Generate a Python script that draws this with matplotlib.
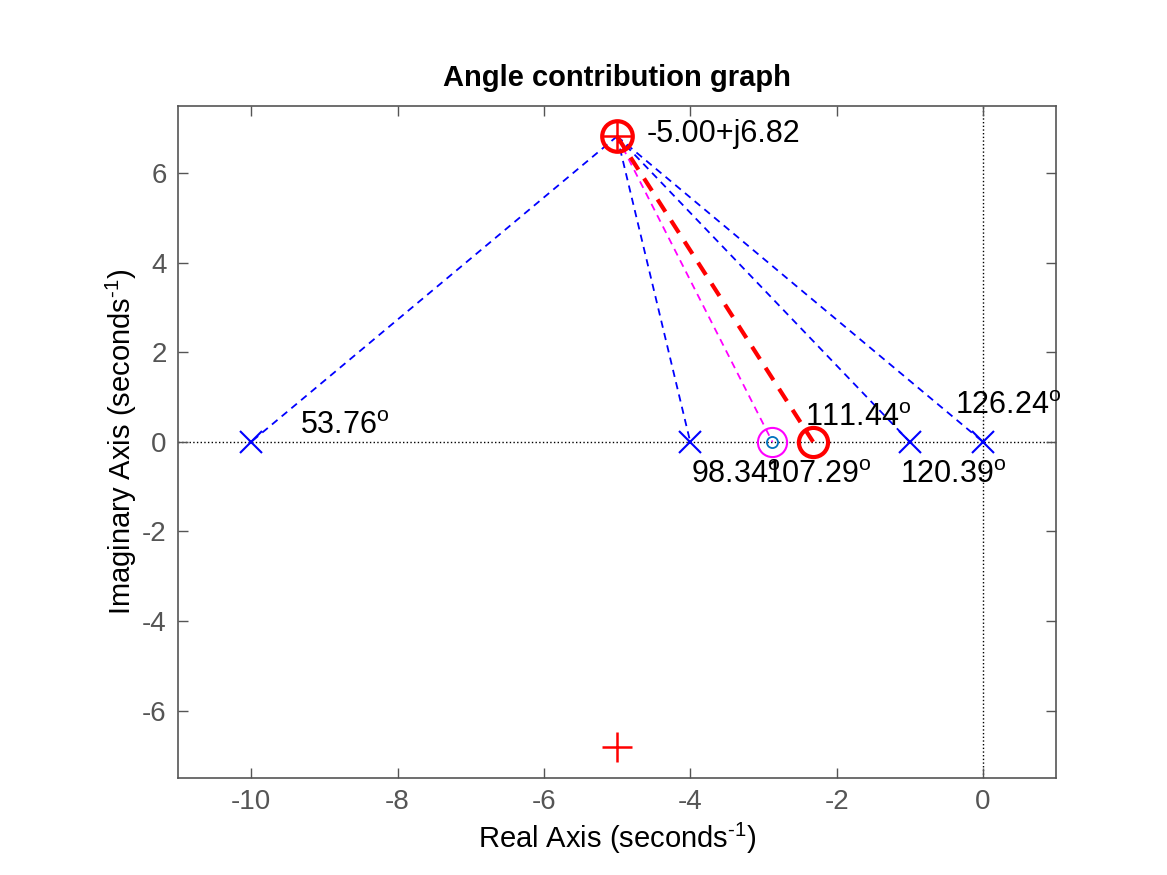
import numpy as np
import matplotlib.pyplot as plt

plt.rcParams['font.family'] = ['Liberation Sans', 'DejaVu Sans']
plt.rcParams['mathtext.fontset'] = 'custom'
plt.rcParams['mathtext.rm'] = 'Liberation Sans'
plt.rcParams['mathtext.it'] = 'Liberation Sans:italic'
plt.rcParams['axes.unicode_minus'] = False

# test point and open loop poles / zeros
test_re = -5.00
test_im = 6.82
poles = [-10, -4, -1, 0]
pole_angles = [53.76, 98.34, 120.39, 126.24]
plant_zero = -2.877
plant_zero_angle = 107.29
comp_zero = -2.321
comp_zero_angle = 111.44

# text positions (left edge, baseline) in data units
pole_label_xy = [(-9.33, 0.18), (-3.99, -0.92), (-1.14, -0.92), (-0.38, 0.62)]
plant_zero_label_xy = (-2.98, -0.92)
comp_zero_label_xy = (-2.43, 0.36)
point_label_xy = (-4.6, 6.70)

grey = '#555555'
fs = 20
fs_txt = 22

fig = plt.figure(figsize=(11.67, 8.75), dpi=100)
ax = fig.add_axes([0.1525, 0.111, 0.7525, 0.768])

# reference axes
ax.axhline(0, color='k', ls=':', lw=1.0, zorder=1)
ax.axvline(0, color='k', ls=':', lw=1.0, zorder=1)

# lines from test point to poles / zeros
for p in poles:
    ax.plot([test_re, p], [test_im, 0], '--', color='b', lw=1.3, dashes=(4, 3))
ax.plot([test_re, plant_zero], [test_im, 0], '--', color='#ff00ff', lw=1.3, dashes=(4, 3))
ax.plot([test_re, comp_zero], [test_im, 0], '--', color='r', lw=3.0, dashes=(3.5, 2.5))

# markers
ax.plot(poles, np.zeros(len(poles)), 'x', color='b', ms=16, mew=1.5)
ax.plot([plant_zero], [0], 'o', mfc='none', mec=(0, 0.447, 0.741), ms=8, mew=1.3)
ax.plot([plant_zero], [0], 'o', mfc='none', mec='#ff00ff', ms=21, mew=1.5)
ax.plot([comp_zero], [0], 'o', mfc='none', mec='r', ms=21, mew=3)
ax.plot([test_re, test_re], [test_im, -test_im], '+', color='r', ms=22, mew=1.8)
ax.plot([test_re], [test_im], 'o', mfc='none', mec='r', ms=22, mew=3)

# angle labels
for (lx, ly), a in zip(pole_label_xy, pole_angles):
    ax.text(lx, ly, '%.2f$^{\\rm o}$' % a, fontsize=fs_txt, va='baseline', ha='left')
ax.text(*plant_zero_label_xy, '%.2f$^{\\rm o}$' % plant_zero_angle, fontsize=fs_txt,
        va='baseline', ha='left')
ax.text(*comp_zero_label_xy, '%.2f$^{\\rm o}$' % comp_zero_angle, fontsize=fs_txt,
        va='baseline', ha='left')
ax.text(*point_label_xy, '%.2f+j%.2f' % (test_re, test_im), fontsize=fs_txt,
        va='baseline', ha='left')

ax.set_xlim(-11, 1)
ax.set_ylim(-7.5, 7.5)
ax.set_xticks(np.arange(-10, 1, 2))
ax.set_yticks(np.arange(-6, 7, 2))
ax.tick_params(direction='in', top=True, right=True, length=7, width=1,
               color=grey, labelcolor=grey, labelsize=fs, pad=8)
for s in ax.spines.values():
    s.set_color(grey)
    s.set_linewidth(1.2)

ax.set_xlabel('Real Axis (seconds$^{\\text{-1}}$)', fontsize=21, labelpad=4)
ax.set_ylabel('Imaginary Axis (seconds$^{\\text{-1}}$)', fontsize=21, labelpad=2)
ax.set_title('Angle contribution graph', fontsize=21, fontweight='bold', pad=14)

fig.savefig('out.png', dpi=100)
